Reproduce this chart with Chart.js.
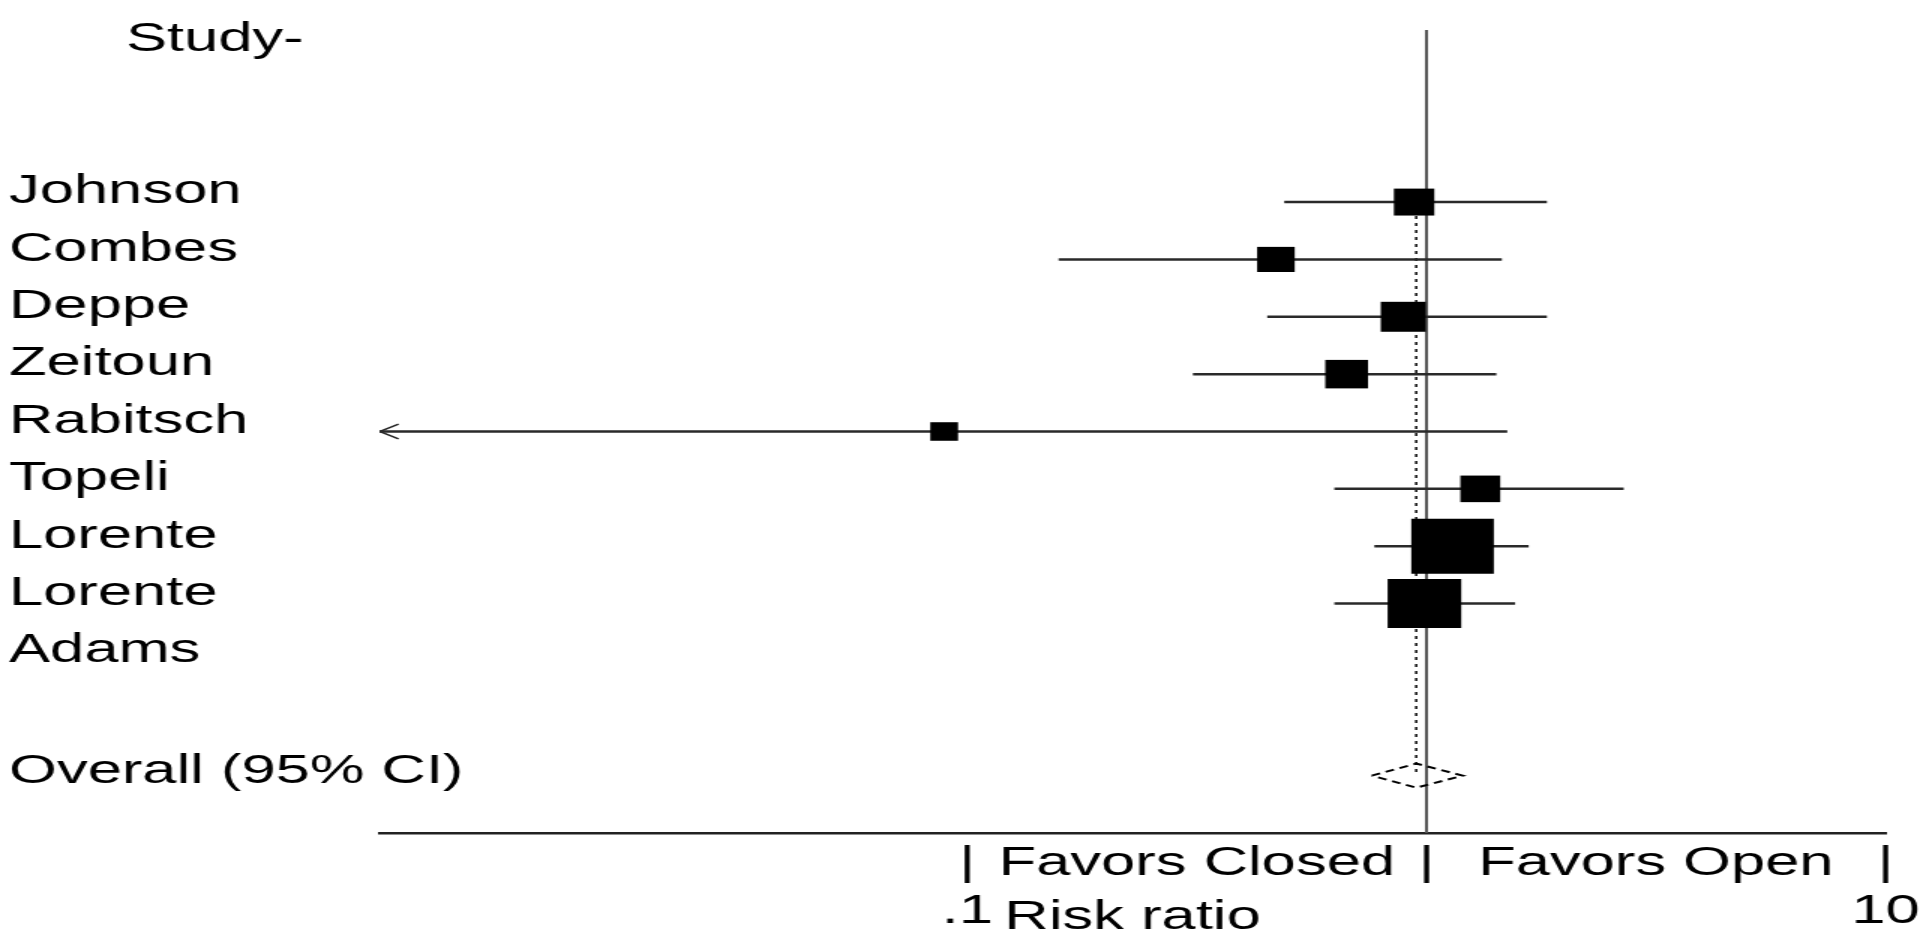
<!DOCTYPE html>
<html>
<head>
<meta charset="utf-8">
<script src="https://cdn.jsdelivr.net/npm/chart.js@4/dist/chart.umd.min.js"></script>
<style>
  html, body { margin: 0; padding: 0; background: #fff; overflow: hidden; }
</style>
</head>
<body>
<!-- drawn at 1280 wide, shown stretched to 1920 like the reference -->
<canvas id="forest" width="1280" height="947" style="width:1920px;height:947px;display:block"></canvas>
<script>
const studies   = ['Johnson', 'Combes', 'Deppe', 'Zeitoun', 'Rabitsch', 'Topeli', 'Lorente', 'Lorente', 'Adams'];
const riskRatio = [0.94, 0.47, 0.89, 0.67, 0.089, 1.31, 1.14, 0.99, null];
const ciLower   = [0.49, 0.158, 0.45, 0.31, 0.004, 0.63, 0.77, 0.63, null];
const ciUpper   = [1.83, 1.46, 1.83, 1.42, 1.50, 2.69, 1.67, 1.56, null];
const weights   = [7.6, 6.6, 9.4, 8.5, 3.6, 7.4, 31.7, 25.2, 0];

const overallLabel = 'Overall (95% CI)';
const overallRR    = 0.95;
const overallLower = 0.76;
const overallUpper = 1.20;

const headerText  = 'Study-';
const xTickValues = [0.1, 0.316, 1, 3.16, 10];
const xTickLabels = [['|', '.1'], 'Favors Closed', '|', 'Favors Open', ['|', '10']];
const xTitle      = 'Risk ratio';

const FONT = '"Liberation Sans", Arial, Helvetica, sans-serif';
const xMin = 0.00524, xMax = 10;
const yTop = -2, yBottom = 12;
const overallRow = studies.length + 2;

Chart.defaults.font.family = FONT;
Chart.defaults.font.size = 41;
Chart.defaults.color = '#000';

// study markers, area follows the weight
const markerPts = [], markerRadius = [];
studies.forEach((s, i) => {
    if (riskRatio[i] == null) return;
    markerPts.push({x: riskRatio[i], y: i + 1});
    markerRadius.push(6.91 * Math.sqrt(weights[i]));
});

// confidence intervals, broken by gaps
const ciPts = [];
studies.forEach((s, i) => {
    if (riskRatio[i] == null) return;
    ciPts.push({x: ciLower[i], y: i + 1}, {x: ciUpper[i], y: i + 1}, {x: null, y: null});
});

// arrow heads where the interval runs off the axis
const arrowPts = [];
studies.forEach((s, i) => {
    if (ciLower[i] != null && ciLower[i] < xMin) {
        arrowPts.push({x: xMin * 1.1, y: i + 1 - 0.13}, {x: xMin, y: i + 1}, {x: xMin * 1.1, y: i + 1 + 0.13}, {x: null, y: null});
    }
});

const dh = 0.21;
const diamondPts = [
    {x: overallLower, y: overallRow}, {x: overallRR, y: overallRow - dh},
    {x: overallUpper, y: overallRow}, {x: overallRR, y: overallRow + dh},
    {x: overallLower, y: overallRow}
];

const lineDefaults = {showLine: true, pointRadius: 0, fill: false, tension: 0};

const headerPlugin = {
    id: 'header',
    afterDraw(chart) {
        const ctx = chart.ctx;
        ctx.save();
        ctx.font = '41px ' + FONT;
        ctx.fillStyle = '#000';
        ctx.textBaseline = 'middle';
        ctx.fillText(headerText, 84, chart.chartArea.top + 10);
        ctx.restore();
    }
};

new Chart(document.getElementById('forest'), {
    type: 'scatter',
    data: {
        datasets: [
            { data: markerPts, pointStyle: 'rect', pointRadius: markerRadius, backgroundColor: '#000', borderWidth: 0 },
            { ...lineDefaults, data: ciPts, borderColor: '#2a2a2a', borderWidth: 2.5 },
            { ...lineDefaults, data: arrowPts, borderColor: '#222', borderWidth: 1.5 },
            { ...lineDefaults, data: diamondPts, borderColor: '#000', borderWidth: 2, borderDash: [6, 4] },
            { ...lineDefaults, data: [{x: overallRR, y: 1}, {x: overallRR, y: overallRow}], borderColor: '#000', borderWidth: 1.5, borderDash: [3, 4] },
            { ...lineDefaults, data: [{x: 1, y: yTop}, {x: 1, y: yBottom}], borderColor: '#555', borderWidth: 2 }
        ]
    },
    options: {
        responsive: false,
        devicePixelRatio: 1,
        animation: false,
        events: [],
        layout: { autoPadding: false, padding: { top: 30, left: 6, right: 23, bottom: 0 } },
        plugins: { legend: { display: false }, tooltip: { enabled: false } },
        scales: {
            x: {
                type: 'logarithmic', min: xMin, max: xMax, bounds: 'data',
                grid: { display: false, drawTicks: false },
                border: { display: true, color: '#222', width: 2.5 },
                afterBuildTicks: s => { s.ticks = xTickValues.map(v => ({value: v})); },
                afterFit: s => { s.height = 114; s.paddingLeft = 0; s.paddingRight = 0; },
                ticks: {
                    autoSkip: false, maxRotation: 0, padding: 7,
                    font: { size: 41, lineHeight: 48 / 41 },
                    callback: (v, i) => xTickLabels[i]
                },
                title: { display: true, text: xTitle, font: { size: 41 }, padding: { top: 0, bottom: 5 } }
            },
            y: {
                type: 'linear', reverse: true, min: yTop, max: yBottom, bounds: 'data',
                grid: { display: false, drawTicks: false },
                border: { display: false },
                afterBuildTicks: s => {
                    s.ticks = studies.map((_, i) => ({value: i + 1})).concat([{value: overallRow + 0.1}]);
                },
                afterFit: s => { s.width = 247; },
                // mirrored so long labels are not clipped at the axis box
                ticks: {
                    autoSkip: false, mirror: true, padding: -247, labelOffset: -10,
                    font: { size: 41 },
                    callback: (v, i) => studies.concat([overallLabel])[i]
                }
            }
        }
    },
    plugins: [headerPlugin]
});
</script>
</body>
</html>
